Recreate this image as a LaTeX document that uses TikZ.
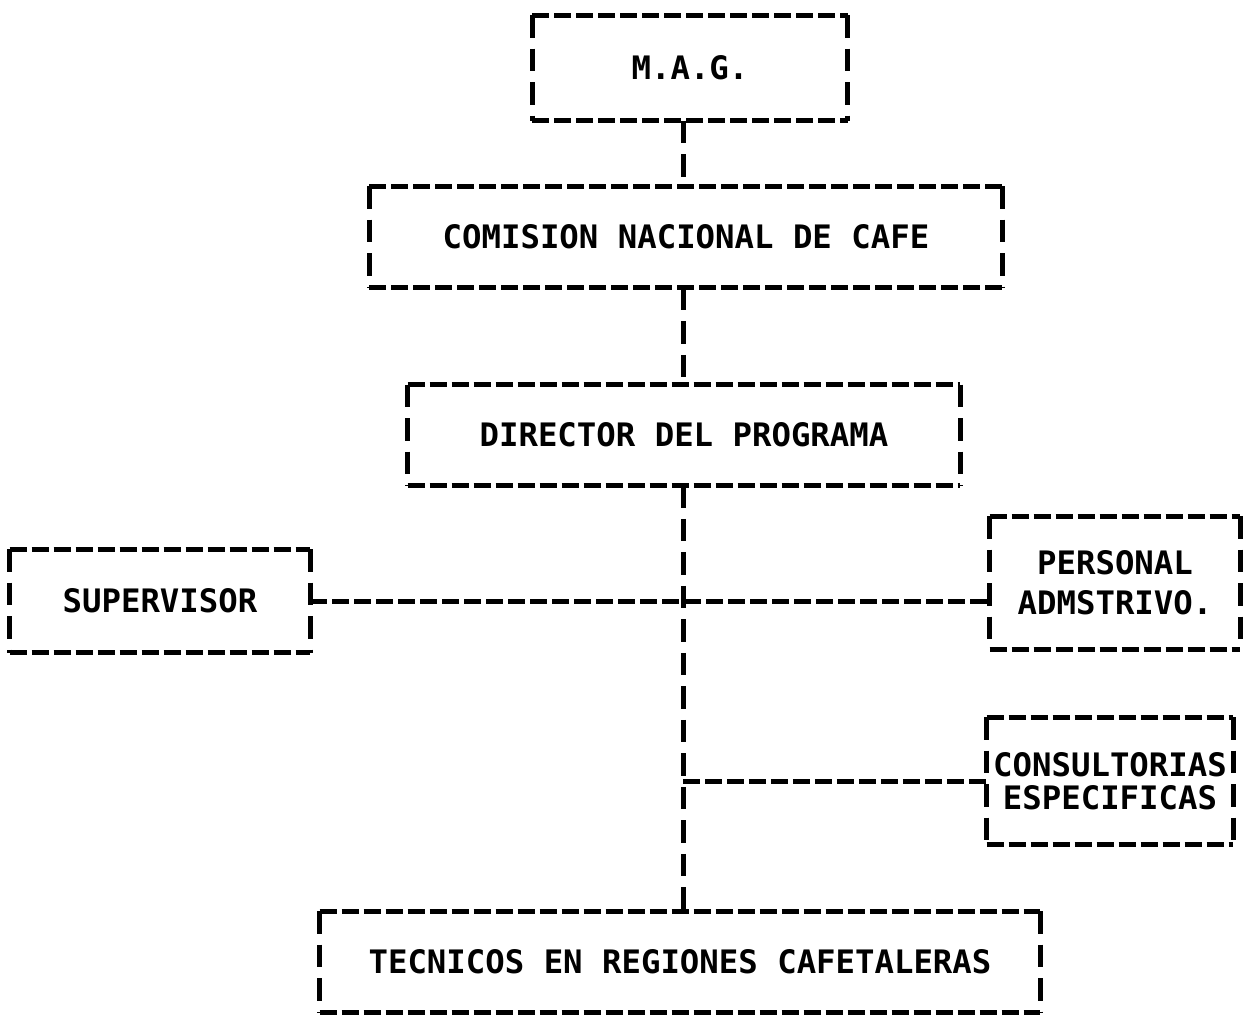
\documentclass[tikz,border=0pt]{standalone}
\usepackage{fontspec}
\newfontfamily\dmfont{DejaVu Sans Mono}
\begin{document}
\begin{tikzpicture}[x=0.02cm,y=-0.02cm,
  box/.style={rectangle, inner sep=0pt, align=center,
    font=\dmfont\bfseries\fontsize{18.4}{19}\selectfont},
  hl/.style={line width=0.1cm, dash pattern=on 0.34cm off 0.1cm},
  vl/.style={line width=0.1cm, dash pattern=on 0.45cm off 0.22cm},
]
\fill[white] (0,0) rectangle (1250,1017);
\useasboundingbox (0,0) rectangle (1250,1017);

\node[box, minimum width=6.3cm,  minimum height=2.1cm]  (mag)  at (690,68)  {M.A.G.};
\node[box, minimum width=12.66cm,minimum height=2.02cm] (cnc)  at (686,237) {COMISION NACIONAL DE CAFE};
\node[box, minimum width=11.04cm,minimum height=2cm]    (dir)  at (684,435) {DIRECTOR DEL PROGRAMA};
\node[box, minimum width=6cm,    minimum height=2.06cm] (sup)  at (160,601) {SUPERVISOR};
\node[box, minimum width=5cm,    minimum height=2.66cm] (pers) at (1115,583) {PERSONAL\\[4pt]ADMSTRIVO.};
\node[box, minimum width=4.92cm, minimum height=2.54cm] (cons) at (1110,781) {CONSULTORIAS\\ESPECIFICAS};
\node[box, minimum width=14.4cm, minimum height=2.02cm] (tec)  at (680,962) {TECNICOS EN REGIONES CAFETALERAS};

\foreach \n in {mag,cnc,dir,sup,pers,cons,tec}{
  \draw[hl] (\n.north west) -- (\n.north east);
  \draw[hl] (\n.south west) -- (\n.south east);
  \draw[vl] (\n.north west) -- (\n.south west);
  \draw[vl] (\n.north east) -- (\n.south east);
}

\coordinate (trunk) at (683,0);
\draw[vl] (trunk |- mag.south) -- (trunk |- cnc.north);
\draw[vl] (trunk |- cnc.south) -- (trunk |- dir.north);
\draw[vl] (trunk |- dir.south) -- (trunk |- tec.north);
\draw[hl] (sup.east) -- (sup.east -| pers.west);
\draw[hl] (trunk |- cons.west) -- (cons.west);
\end{tikzpicture}
\end{document}
